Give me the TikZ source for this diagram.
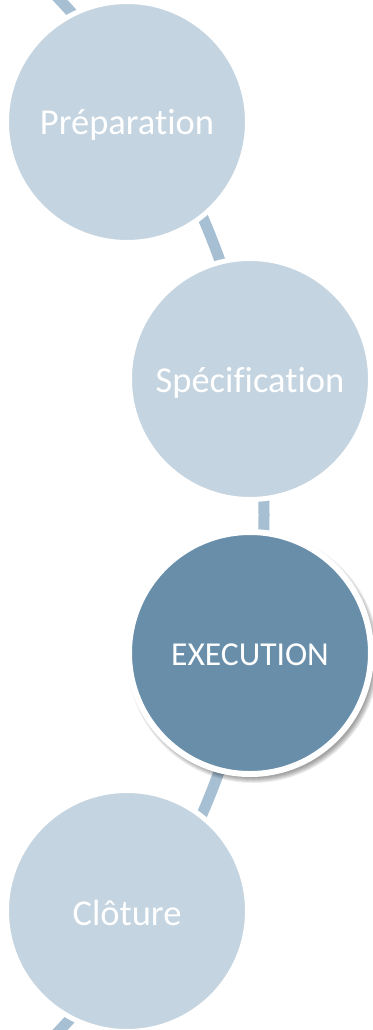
\documentclass[tikz,border=0pt]{standalone}
\usepackage{fontspec}
\setmainfont[Ligatures=NoCommon]{Carlito}
\definecolor{lightc}{HTML}{C4D4E0}
\definecolor{darkc}{HTML}{688EAA}
\definecolor{linec}{HTML}{A6BFD3}
\tikzset{
  conn/.style={draw=linec, line width=11pt},
  lightstage/.style={circle, fill=lightc, draw=white, line width=5pt, minimum size=241pt, inner sep=0pt},
  darkstage/.style={circle, fill=darkc, draw=white, line width=6pt, minimum size=242pt, inner sep=0pt},
  lbl/.style={text=white, anchor=base, inner sep=0pt, font=\fontsize{36.5}{40}\selectfont},
  dlbl/.style={text=white, anchor=base, inner sep=0pt, font=\fontsize{33.5}{38}\selectfont}
}
\begin{document}
\begin{tikzpicture}[x=1pt,y=-1pt]
\useasboundingbox (0,0) rectangle (372,1030);
% curved connector running behind all stages
\coordinate (arcc) at (-488,515);
\begin{scope}
  \clip (0,0) rectangle (372,1030);
  \draw[conn] (arcc) circle[radius=752];
\end{scope}
% shadow of the highlighted stage
\coordinate (shc) at (253,657);
\foreach \r in {121,122,123,124,125,126}
  \fill[black, opacity=0.07] (shc) circle[radius=\r];
% stages
\node[lightstage] (prep) at (127,122) {};
\node[lightstage] (spec) at (250,379) {};
\node[darkstage]  (exec) at (250,653) {};
\node[lightstage] (clot) at (127,911) {};
% labels
\node[lbl]  (prept) at (127,135) {Préparation};
\node[lbl]  (spect) at (250,392) {Spécification};
\node[dlbl] (exect) at (250,665) {EXECUTION};
\node[lbl]  (clott) at (127,925) {Clôture};
\end{tikzpicture}
\end{document}
